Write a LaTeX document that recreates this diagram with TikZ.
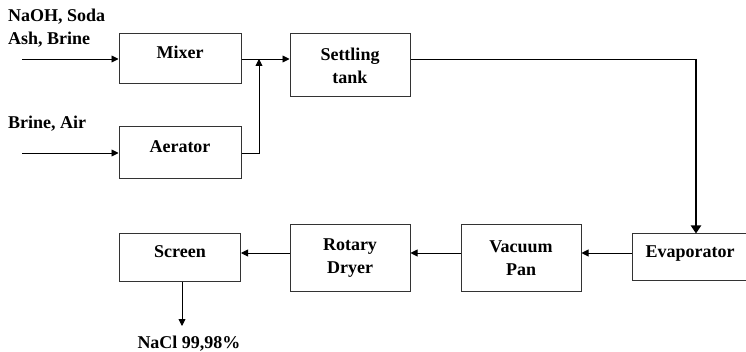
\documentclass[tikz,border=0pt]{standalone}
\usepackage{fontspec}
\setmainfont{Liberation Serif}
\usetikzlibrary{arrows.meta}
\begin{document}
\begin{tikzpicture}[x=1pt, y=-1pt, >={Triangle[length=7pt,width=7pt]},
  font=\fontsize{18}{23}\selectfont\bfseries,
  unit/.style={draw=black!80, line width=1pt, align=center, inner sep=0pt},
  oneline/.style={unit, text height=12pt, text depth=12pt},
  flow/.style={line width=0.9pt}]
\useasboundingbox (0,0) rectangle (746,352);
\node[oneline, minimum width=122pt, minimum height=50pt] (mixer) at (180,59) {Mixer};
\node[oneline, minimum width=122pt, minimum height=52pt] (aerator) at (180,153) {Aerator};
\node[unit, minimum width=120pt, minimum height=63pt] (settling) at (350,65.5) {Settling\\tank};
\node[oneline, minimum width=116pt, minimum height=47pt] (evap) at (690,257.5) {Evaporator};
\node[unit, minimum width=120pt, minimum height=67pt] (vacuum) at (521,258.5) {Vacuum\\Pan};
\node[unit, minimum width=120pt, minimum height=67pt] (rotary) at (350,258.5) {Rotary\\Dryer};
\node[oneline, minimum width=121pt, minimum height=48pt] (screen) at (180,258) {Screen};
\node[anchor=north west, inner sep=0pt, align=left] (feed1) at (8,9) {NaOH, Soda\\Ash, Brine};
\node[anchor=north west, inner sep=0pt] (feed2) at (8,116) {Brine, Air};
\node[anchor=base, inner sep=0pt] (product) at (189,348) {NaCl 99,98\%};
\coordinate (in1) at (22,59);
\coordinate (in2) at (22,153);
\coordinate (join) at (259,59);
\coordinate (bend) at (696,59);
\coordinate (row) at (0,253);
\coordinate (tip) at (182,326);
\draw[flow,->] (in1) -- (mixer.west);
\draw[flow,->] (in2) -- (aerator.west);
\draw[flow,->] (mixer.east) -- (mixer.east -| settling.west);
\draw[flow,->] (aerator.east) -- (aerator.east -| join) -- (join);
\draw[flow] (settling.east |- bend) -- (bend);
\draw[line width=2pt,-{Triangle[length=8pt,width=10pt]}] (bend) -- (bend |- evap.north);
\draw[flow,->] (evap.west |- row) -- (vacuum.east |- row);
\draw[flow,->] (vacuum.west |- row) -- (rotary.east |- row);
\draw[flow,->] (rotary.west |- row) -- (screen.east |- row);
\draw[flow,->] (screen.south -| tip) -- (tip);
\end{tikzpicture}
\end{document}
